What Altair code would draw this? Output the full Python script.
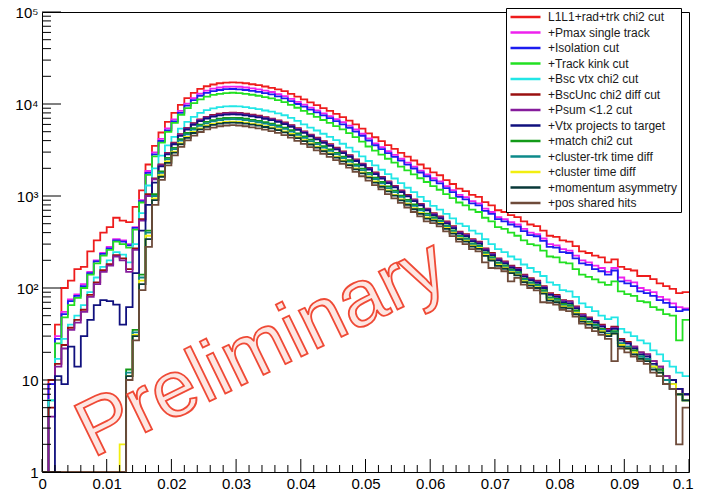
import altair as alt
import pandas as pd

# ---------------- data ----------------
series_names = [
    "L1L1+rad+trk chi2 cut", "+Pmax single track", "+Isolation cut", "+Track kink cut",
    "+Bsc vtx chi2 cut", "+BscUnc chi2 diff cut", "+Psum <1.2 cut", "+Vtx projects to target",
    "+match chi2 cut", "+cluster-trk time diff", "+cluster time diff", "+momentum asymmetry",
    "+pos shared hits",
]
series_colors = [
    "#ee1c1c", "#ee22ee", "#1c1cf0", "#22e022", "#22e6e6", "#9a1010", "#861c9c",
    "#10107e", "#139a18", "#0c8a8a", "#f2ee10", "#083838", "#6e4b3a",
]

bin_edges = [round(i * 0.001, 3) for i in range(101)]  # 100 bins from 0 to 0.1

red = [0, 10, 40, 100, 120, 160, 170, 250, 330, 400, 460, 580, 540, 520, 760, 1150,
       2200, 3500, 4900, 6400, 8000, 9800, 11600, 13200, 14600, 15600, 16300, 16800, 17100, 17200,
       17100, 16800, 16400, 16000, 15500, 15000, 14400, 13800, 12900, 12000,
       11200, 10400, 9700, 9000, 8400, 7800, 7200, 6600, 6000, 5400,
       4800, 4350, 3950, 3580, 3250, 2950, 2680, 2430, 2200, 2000,
       1810, 1680, 1490, 1350, 1200, 1130, 1030, 980, 860, 790,
       700, 670, 620, 590, 530, 490, 470, 420, 370, 360,
       330, 320, 285, 250, 240, 225, 215, 190, 205, 170,
       160, 155, 135, 135, 125, 112, 105, 98, 88, 90]
magenta = [0, 9, 30, 55, 75, 85, 110, 150, 200, 240, 280, 340, 330, 300, 460, 900,
           1870, 2980, 4170, 5440, 6800, 8430, 10100, 11600, 12960, 14000, 14670, 15120, 15390, 15480,
           15390, 15120, 14760, 14400, 13950, 13500, 12800, 12150, 11350, 10560,
           9860, 9150, 8540, 7920, 7390, 6860, 6340, 5810, 5280, 4750,
           4220, 3740, 3400, 3080, 2800, 2540, 2300, 2090, 1890, 1720,
           1560, 1440, 1280, 1160, 1030, 970, 880, 830, 730, 670,
           590, 560, 520, 490, 440, 400, 385, 345, 300, 290,
           265, 255, 225, 200, 190, 175, 165, 150, 165, 130,
           120, 115, 100, 95, 90, 80, 75, 68, 62, 60]
blue = [0, 9, 28, 52, 72, 82, 105, 145, 195, 235, 270, 330, 320, 290, 450, 880,
        1780, 2830, 3960, 5170, 6460, 8000, 9600, 11000, 12300, 13200, 13800, 14200, 14500, 14550,
        14450, 14200, 13900, 13550, 13150, 12700, 12100, 11500, 10750, 10000,
        9350, 8680, 8100, 7520, 7020, 6520, 6020, 5520, 5020, 4520,
        4010, 3560, 3240, 2930, 2660, 2420, 2190, 1990, 1800, 1640,
        1480, 1370, 1220, 1100, 980, 920, 830, 790, 690, 640,
        560, 530, 490, 465, 415, 375, 365, 325, 280, 275,
        245, 240, 210, 185, 178, 160, 152, 140, 155, 118,
        112, 105, 92, 88, 82, 74, 69, 62, 56, 58]
green = [0, 6, 25, 48, 65, 78, 100, 140, 185, 225, 260, 320, 300, 275, 430, 850,
         1700, 2700, 3800, 4990, 6240, 7640, 9000, 10200, 11200, 12000, 12550, 12900, 13150, 13250,
         13150, 12900, 12600, 12300, 11900, 11500, 11000, 10500, 9800, 9100,
         8400, 7800, 7230, 6700, 6230, 5760, 5290, 4820, 4360, 3900,
         3450, 3110, 2810, 2540, 2300, 2090, 1900, 1720, 1560, 1420,
         1280, 1170, 1050, 950, 850, 790, 710, 670, 580, 530,
         460, 440, 400, 370, 330, 300, 290, 255, 220, 215,
         190, 185, 160, 140, 132, 124, 115, 108, 118, 92,
         86, 82, 72, 70, 62, 58, 52, 50, 27, 45]
cyan = [0, 6, 17, 28, 40, 50, 65, 90, 130, 170, 200, 245, 230, 190, 300, 650,
        1300, 2000, 2750, 3550, 4400, 5400, 6400, 7250, 8000, 8600, 8950, 9250, 9400, 9450,
        9400, 9250, 9000, 8800, 8500, 8250, 7900, 7550, 7050, 6550,
        6000, 5550, 5150, 4750, 4400, 4050, 3700, 3350, 3030, 2700,
        2400, 2150, 1930, 1730, 1550, 1380, 1230, 1100, 980, 880,
        780, 710, 640, 570, 500, 470, 420, 390, 340, 300,
        265, 245, 220, 205, 180, 165, 150, 135, 115, 108,
        95, 92, 80, 68, 62, 56, 50, 46, 48, 36,
        33, 30, 27, 25, 21, 19, 16, 14, 12, 11]
darkred = [0, 5, 15, 24, 37, 45, 58, 84, 115, 156, 182, 228, 210, 160, 270, 560,
           1050, 1550, 2200, 2950, 3800, 4700, 5500, 6200, 6800, 7250, 7600, 7850, 8000, 8050,
           8000, 7850, 7650, 7450, 7200, 6950, 6650, 6300, 5900, 5450,
           5050, 4650, 4300, 3950, 3650, 3350, 3050, 2780, 2500, 2250,
           2020, 1800, 1610, 1440, 1290, 1150, 1030, 920, 820, 730,
           650, 600, 530, 470, 410, 385, 340, 320, 270, 240,
           210, 195, 175, 165, 140, 128, 120, 105, 88, 84,
           74, 72, 63, 52, 48, 44, 40, 36, 38, 28,
           26, 23, 20, 19, 16, 14, 11, 10, 8, 7]
purple = [0, 4, 14, 22, 35, 42, 55, 80, 110, 150, 175, 220, 200, 150, 260, 540,
          1000, 1520, 2170, 2900, 3740, 4630, 5420, 6110, 6700, 7140, 7490, 7730, 7880, 7930,
          7880, 7730, 7540, 7340, 7090, 6850, 6550, 6210, 5810, 5370,
          4970, 4580, 4240, 3890, 3600, 3300, 3000, 2740, 2460, 2220,
          1990, 1770, 1590, 1420, 1270, 1130, 1010, 905, 808, 720,
          637, 588, 519, 461, 402, 377, 333, 314, 265, 235,
          206, 191, 172, 162, 137, 125, 118, 103, 86, 82,
          73, 71, 62, 51, 47, 43, 39, 35, 37, 27,
          25, 23, 20, 19, 16, 14, 11, 10, 8, 7]
navy = [0, 0, 11, 9, 23, 14, 30, 45, 65, 74, 72, 66, 40, 62, 145, 420,
        800, 1400, 2100, 2830, 3650, 4510, 5280, 5950, 6530, 6960, 7300, 7540, 7680, 7730,
        7680, 7540, 7340, 7150, 6910, 6670, 6380, 6050, 5660, 5230,
        4850, 4460, 4130, 3790, 3500, 3220, 2930, 2670, 2400, 2160,
        1940, 1730, 1550, 1380, 1240, 1100, 990, 880, 790, 700,
        618, 570, 504, 447, 390, 366, 323, 304, 257, 228,
        200, 185, 166, 157, 133, 122, 114, 100, 84, 80,
        70, 68, 60, 49, 46, 42, 38, 34, 36, 27,
        25, 22, 19, 18, 15, 13, 10, 10, 8, 7]
darkgreen = [0, 0, 0, 0, 0, 0, 0, 0, 0, 0, 0, 0, 0, 13, 35, 140,
             420, 1050, 1850, 2600, 3340, 4140, 4840, 5460, 5980, 6380, 6690, 6910, 7040, 7080,
             7040, 6910, 6730, 6560, 6340, 6120, 5850, 5540, 5190, 4800,
             4440, 4090, 3780, 3480, 3210, 2950, 2680, 2450, 2200, 1980,
             1780, 1580, 1420, 1270, 1140, 1010, 906, 810, 722, 642,
             585, 540, 477, 423, 369, 347, 306, 288, 243, 216,
             189, 176, 158, 149, 126, 115, 108, 95, 79, 76,
             67, 65, 57, 47, 43, 40, 36, 32, 34, 25,
             23, 21, 18, 17, 14, 13, 10, 9, 7, 6]
teal = [0, 0, 0, 0, 0, 0, 0, 0, 0, 0, 0, 0, 0, 12, 33, 130,
        400, 1000, 1780, 2500, 3230, 4000, 4680, 5270, 5780, 6160, 6460, 6670, 6800, 6840,
        6800, 6670, 6500, 6330, 6120, 5910, 5650, 5360, 5020, 4630,
        4290, 3950, 3660, 3360, 3100, 2850, 2590, 2360, 2130, 1910,
        1720, 1530, 1370, 1220, 1100, 978, 876, 782, 697, 621,
        572, 528, 466, 414, 361, 339, 299, 282, 238, 211,
        185, 172, 154, 145, 123, 113, 106, 92, 77, 74,
        65, 63, 55, 46, 42, 39, 35, 32, 33, 25,
        23, 20, 18, 17, 14, 12, 10, 9, 7, 6]
yellow = [0, 0, 0, 0, 0, 0, 0, 0, 0, 0, 0, 0, 2, 11, 31, 120,
          370, 940, 1680, 2370, 3040, 3760, 4400, 4960, 5440, 5800, 6080, 6280, 6400, 6440,
          6400, 6280, 6120, 5960, 5760, 5560, 5320, 5040, 4720, 4360,
          4040, 3720, 3440, 3160, 2920, 2680, 2440, 2220, 2000, 1800,
          1620, 1440, 1290, 1150, 1030, 920, 824, 736, 656, 584,
          553, 510, 450, 400, 349, 327, 289, 272, 230, 204,
          179, 166, 149, 140, 119, 109, 102, 89, 75, 71,
          63, 61, 54, 44, 41, 37, 34, 31, 32, 24,
          22, 20, 17, 16, 14, 12, 9, 9, 7, 6]
slate = [0, 0, 0, 0, 0, 0, 0, 0, 0, 0, 0, 0, 0, 11, 30, 110,
         340, 900, 1620, 2290, 2960, 3670, 4290, 4840, 5300, 5660, 5930, 6120, 6240, 6280,
         6240, 6120, 5970, 5810, 5620, 5420, 5190, 4910, 4600, 4250,
         3940, 3630, 3350, 3080, 2850, 2610, 2380, 2170, 1950, 1760,
         1580, 1400, 1260, 1120, 1010, 897, 803, 718, 640, 569,
         540, 498, 440, 390, 340, 320, 282, 266, 224, 199,
         174, 162, 145, 137, 116, 106, 100, 87, 73, 70,
         61, 60, 52, 43, 40, 37, 33, 30, 32, 23,
         22, 19, 17, 16, 13, 12, 9, 8, 7, 6]
brown = [0, 0, 0, 0, 0, 0, 0, 0, 0, 0, 0, 0, 0, 10, 27, 95,
         280, 800, 1500, 2150, 2770, 3430, 4020, 4530, 4960, 5290, 5550, 5730, 5840, 5880,
         5840, 5730, 5580, 5440, 5260, 5070, 4850, 4600, 4310, 3980,
         3690, 3390, 3140, 2880, 2660, 2450, 2230, 2030, 1830, 1640,
         1470, 1310, 1180, 1050, 940, 840, 750, 670, 600, 530,
         507, 468, 413, 367, 320, 300, 265, 250, 190, 165,
         164, 152, 118, 129, 109, 100, 94, 70, 69, 66,
         58, 56, 49, 41, 37, 34, 31, 28, 16, 22,
         20, 18, 16, 15, 12, 11, 9, 8, 2, 5]

all_counts = [red, magenta, blue, green, cyan, darkred, purple, navy,
              darkgreen, teal, yellow, slate, brown]

x_tick_labels = ["0", "0.01", "0.02", "0.03", "0.04", "0.05", "0.06", "0.07", "0.08", "0.09", "0.1"]
y_tick_labels = ["1", "10", "10²", "10³", "10⁴", "10⁵"]
watermark_text = "Preliminary"

# ---------------- build tables ----------------
rows = []
for k, (name, counts) in enumerate(zip(series_names, all_counts)):
    vals = counts + [counts[-1]]
    for xe, v in zip(bin_edges, vals):
        rows.append({"series": name, "order": k, "x": xe, "count": max(v, 1)})
df = pd.DataFrame(rows).sort_values(["order", "x"])

x_major = [round(i * 0.01, 2) for i in range(11)]
x_minor = [round(i * 0.002, 3) for i in range(51) if i % 5]
y_major = [10 ** d for d in range(6)]
y_minor = [m * 10 ** d for d in range(5) for m in range(2, 10)]

FONT = "Liberation Sans"
W, H = 647, 460

x_scale = alt.Scale(domain=[0, 0.1], nice=False, zero=False)
y_scale = alt.Scale(type="log", domain=[1, 100000], nice=False, clamp=True)

x_label_expr = "[" + ",".join("'%s'" % s for s in x_tick_labels) + "][round(datum.value*100)]"
y_label_expr = "[" + ",".join("'%s'" % s for s in y_tick_labels) + "][round(log(datum.value)/LN10)]"

x_axis = alt.Axis(values=x_major, labelExpr=x_label_expr, ticks=False, domain=False, grid=False,
                  labelFont=FONT, labelFontSize=15, labelPadding=4, labelColor="black",
                  labelFlush=True, labelFlushOffset=4, labelOverlap=False)
y_axis = alt.Axis(values=y_major, labelExpr=y_label_expr, ticks=False, domain=False, grid=False,
                  labelFont=FONT, labelFontSize=15, labelPadding=4, labelColor="black",
                  labelOverlap=False)

lines = alt.Chart(df).mark_line(interpolate="step-after", strokeWidth=1.8, clip=True).encode(
    x=alt.X("x:Q", scale=x_scale, title=None, axis=x_axis),
    y=alt.Y("count:Q", scale=y_scale, title=None, axis=y_axis),
    color=alt.Color("series:N", scale=alt.Scale(domain=series_names, range=series_colors),
                    legend=alt.Legend(title=None, orient="none", legendX=464, legendY=-4,
                                      symbolType="stroke", symbolSize=900, symbolStrokeWidth=2.5,
                                      clipHeight=12, rowPadding=3.5, padding=3,
                                      strokeColor="black", fillColor="white",
                                      labelFont=FONT, labelFontSize=12, labelColor="#1a1a1a",
                                      labelOffset=6)),
    order=alt.Order("x:Q"),
)

ytick_major = alt.Chart(pd.DataFrame({"count": y_major})).mark_rule(color="black", strokeWidth=1).encode(
    y=alt.Y("count:Q", scale=y_scale, title=None, axis=y_axis), x=alt.value(0), x2=alt.value(19))
ytick_minor = alt.Chart(pd.DataFrame({"count": y_minor})).mark_rule(color="black", strokeWidth=1).encode(
    y=alt.Y("count:Q", scale=y_scale, title=None, axis=y_axis), x=alt.value(0), x2=alt.value(9))
xtick_major = alt.Chart(pd.DataFrame({"x": x_major})).mark_rule(color="black", strokeWidth=1).encode(
    x=alt.X("x:Q", scale=x_scale, title=None, axis=x_axis), y=alt.value(H), y2=alt.value(H - 13))
xtick_minor = alt.Chart(pd.DataFrame({"x": x_minor})).mark_rule(color="black", strokeWidth=1).encode(
    x=alt.X("x:Q", scale=x_scale, title=None, axis=x_axis), y=alt.value(H), y2=alt.value(H - 7))

watermark = alt.Chart(pd.DataFrame({"t": [watermark_text]})).mark_text(
    font=FONT, fontSize=80, angle=334, align="center", baseline="middle",
    fill="#fbd6cf", fillOpacity=0.6, stroke="#ef4a36", strokeWidth=1.8,
).encode(x=alt.value(220), y=alt.value(337), text="t:N")

chart = alt.layer(lines, ytick_major, ytick_minor, xtick_major, xtick_minor, watermark).properties(
    width=W, height=H,
    padding={"left": 34, "top": 4, "right": 5, "bottom": 18},
    autosize=alt.AutoSizeParams(type="none"),
).configure_view(stroke="black", strokeWidth=1)

chart.save("out.html", embed_options={"renderer": "svg", "actions": False})
